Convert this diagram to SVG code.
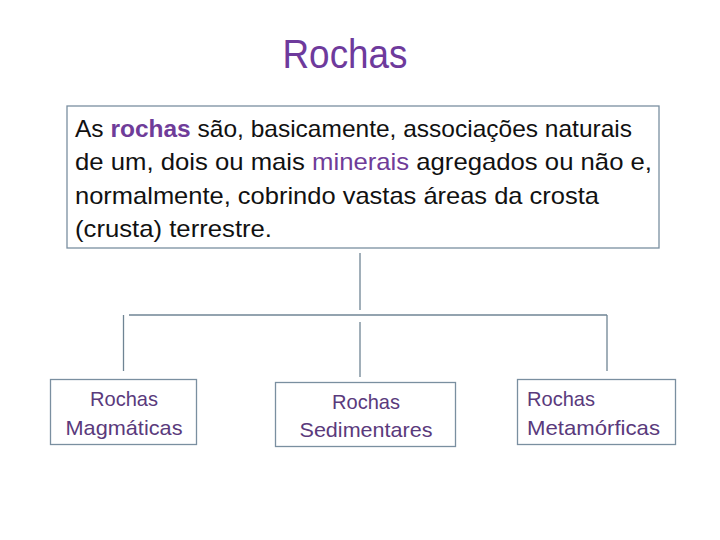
<svg xmlns="http://www.w3.org/2000/svg" width="720" height="540" viewBox="0 0 720 540">
<style>
.box{fill:#ffffff;stroke:#7a8fa0;stroke-width:1.3}
.ln{stroke:#6f8494;stroke-width:1.3;fill:none}
.body{font-family:"Liberation Sans",Arial,sans-serif;font-size:24px;fill:#111111}
.lbl{font-family:"Liberation Sans",Arial,sans-serif;font-size:21px;fill:#5a3a7c}
.hl{fill:#6f3c99}
</style>
<rect width="720" height="540" fill="#ffffff"/>
<text x="345" y="68" text-anchor="middle" font-family="Liberation Sans, Arial, sans-serif" font-size="41" fill="#6e3a9c" textLength="125" lengthAdjust="spacingAndGlyphs">Rochas</text>
<g id="main">
<rect class="box" x="67" y="106" width="592" height="142"/>
<text class="body" x="75" y="137" textLength="557" lengthAdjust="spacingAndGlyphs">As <tspan class="hl" font-weight="bold">rochas</tspan> são, basicamente, associações naturais</text>
<text class="body" x="75" y="170" textLength="577" lengthAdjust="spacingAndGlyphs">de um, dois ou mais <tspan class="hl">minerais</tspan> agregados ou não e,</text>
<text class="body" x="75" y="204" textLength="524" lengthAdjust="spacingAndGlyphs">normalmente, cobrindo vastas áreas da crosta</text>
<text class="body" x="75" y="237" textLength="197" lengthAdjust="spacingAndGlyphs">(crusta) terrestre.</text>
</g>
<g id="connectors">
<line class="ln" x1="360" y1="253" x2="360" y2="310"/>
<line class="ln" x1="129" y1="315" x2="607" y2="315"/>
<line class="ln" x1="123.5" y1="315" x2="123.5" y2="371"/>
<line class="ln" x1="360" y1="322" x2="360" y2="377"/>
<line class="ln" x1="607" y1="315" x2="607" y2="371"/>
</g>
<g id="magmaticas">
<rect class="box" x="50.5" y="379.5" width="146" height="65"/>
<text class="lbl" x="124" y="406" text-anchor="middle" textLength="68" lengthAdjust="spacingAndGlyphs">Rochas</text>
<text class="lbl" x="124" y="435" text-anchor="middle" textLength="117" lengthAdjust="spacingAndGlyphs">Magmáticas</text>
</g>
<g id="sedimentares">
<rect class="box" x="275.5" y="382.5" width="180" height="64"/>
<text class="lbl" x="366" y="409" text-anchor="middle" textLength="68" lengthAdjust="spacingAndGlyphs">Rochas</text>
<text class="lbl" x="366" y="437" text-anchor="middle" textLength="133" lengthAdjust="spacingAndGlyphs">Sedimentares</text>
</g>
<g id="metamorficas">
<rect class="box" x="517.5" y="379.5" width="158" height="65"/>
<text class="lbl" x="527" y="406" textLength="68" lengthAdjust="spacingAndGlyphs">Rochas</text>
<text class="lbl" x="527" y="435" textLength="133" lengthAdjust="spacingAndGlyphs">Metamórficas</text>
</g>
</svg>
